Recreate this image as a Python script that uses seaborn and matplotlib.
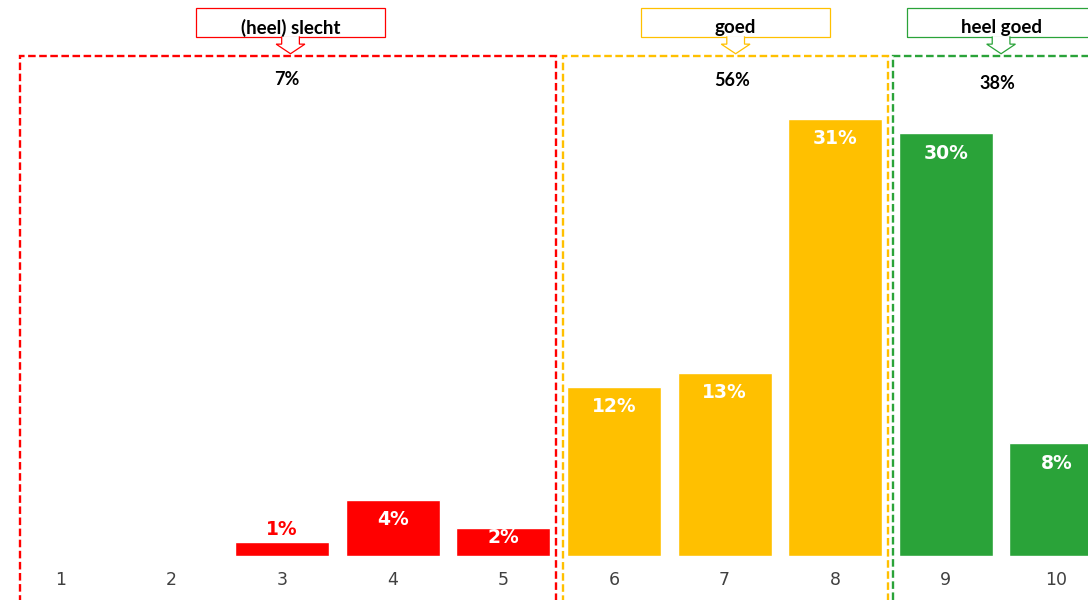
import matplotlib.pyplot as plt
import matplotlib.patches as mpatches
import pandas as pd
import seaborn as sns

# data
scores = ["1", "2", "3", "4", "5", "6", "7", "8", "9", "10"]
shares = [0, 0, 1, 4, 2, 12, 13, 31, 30, 8]
groups = ["slecht"] * 5 + ["goed"] * 3 + ["heel goed"] * 2

group_names = ["slecht", "goed", "heel goed"]
group_titles = ["(heel) slecht", "goed", "heel goed"]
group_totals = ["7%", "56%", "38%"]
colors = {"slecht": "#FF0000", "goed": "#FFC000", "heel goed": "#2AA339"}

df = pd.DataFrame({"score": scores, "share": shares, "groep": groups})

sns.set_style("white")
plt.rcParams["font.family"] = ["DejaVu Sans"]

fig = plt.figure(figsize=(10.88, 6), dpi=100)
ax = fig.add_axes([0, 0.0733, 1, 0.9267])

sns.barplot(data=df, x="score", y="share", hue="groep", palette=colors,
            dodge=False, width=0.85, legend=False, ax=ax, saturation=1)

ax.set_xlim(-0.552, 9.286)
ax.set_ylim(0, 39.43)
ax.set_xlabel("")
ax.set_ylabel("")
ax.set_yticks([])
ax.tick_params(axis="x", length=0, pad=11, labelsize=12.5, labelcolor="#404040")
sns.despine(ax=ax, left=True, bottom=True)

# labels on bars
for i, v in enumerate(shares):
    if v == 0:
        continue
    if v < 2:
        ax.text(i, v + 0.9, f"{v}%", ha="center", va="center", color=colors[groups[i]],
                fontsize=13.5, fontweight="bold")
    else:
        y = max(v - 1.42, v / 2 + 0.3)
        ax.text(i, y, f"{v}%", ha="center", va="center", color="white",
                fontsize=13.5, fontweight="bold")

# dashed group boxes
box_x = [(-0.371, 4.476), (4.539, 7.477), (7.523, 9.6)]
box_top = 35.46
for (x0, x1), g in zip(box_x, group_names):
    rect = mpatches.Rectangle((x0, -5), x1 - x0, box_top + 5, fill=False,
                              edgecolor=colors[g], lw=1.7, linestyle=(0, (3.2, 1.5)),
                              clip_on=False, zorder=5)
    ax.add_patch(rect)

# callouts and group totals
centers = [2.075, 6.10, 8.50]
total_y = [33.8, 33.75, 33.5]
for c, g, title, tot, ty in zip(centers, group_names, group_titles, group_totals, total_y):
    col = colors[g]
    hw = 0.855
    b0, b1 = 36.8, 38.87
    ax.add_patch(mpatches.Rectangle((c - hw, b0), 2 * hw, b1 - b0, fill=False,
                                    edgecolor=col, lw=0.9, clip_on=False, zorder=6))
    # arrow pointing down to the dashed box
    sw, hw2 = 0.08, 0.13
    pts = [(c - sw, b0 + 0.05), (c - sw, 36.3), (c - hw2, 36.3), (c, 35.62),
           (c + hw2, 36.3), (c + sw, 36.3), (c + sw, b0 + 0.05)]
    ax.add_patch(mpatches.Polygon(pts, closed=False, facecolor="white", edgecolor=col,
                                  lw=0.9, clip_on=False, zorder=7))
    ax.text(c, 37.45, title, ha="center", va="center", fontsize=13.5, fontweight="bold",
            family=["Lato", "DejaVu Sans"], color="black", zorder=8)
    ax.text(c - 0.03, ty, tot, ha="center", va="center", fontsize=13, fontweight="bold",
            family=["Lato", "DejaVu Sans"], color="black", zorder=8)

fig.savefig("out.png", dpi=100)
